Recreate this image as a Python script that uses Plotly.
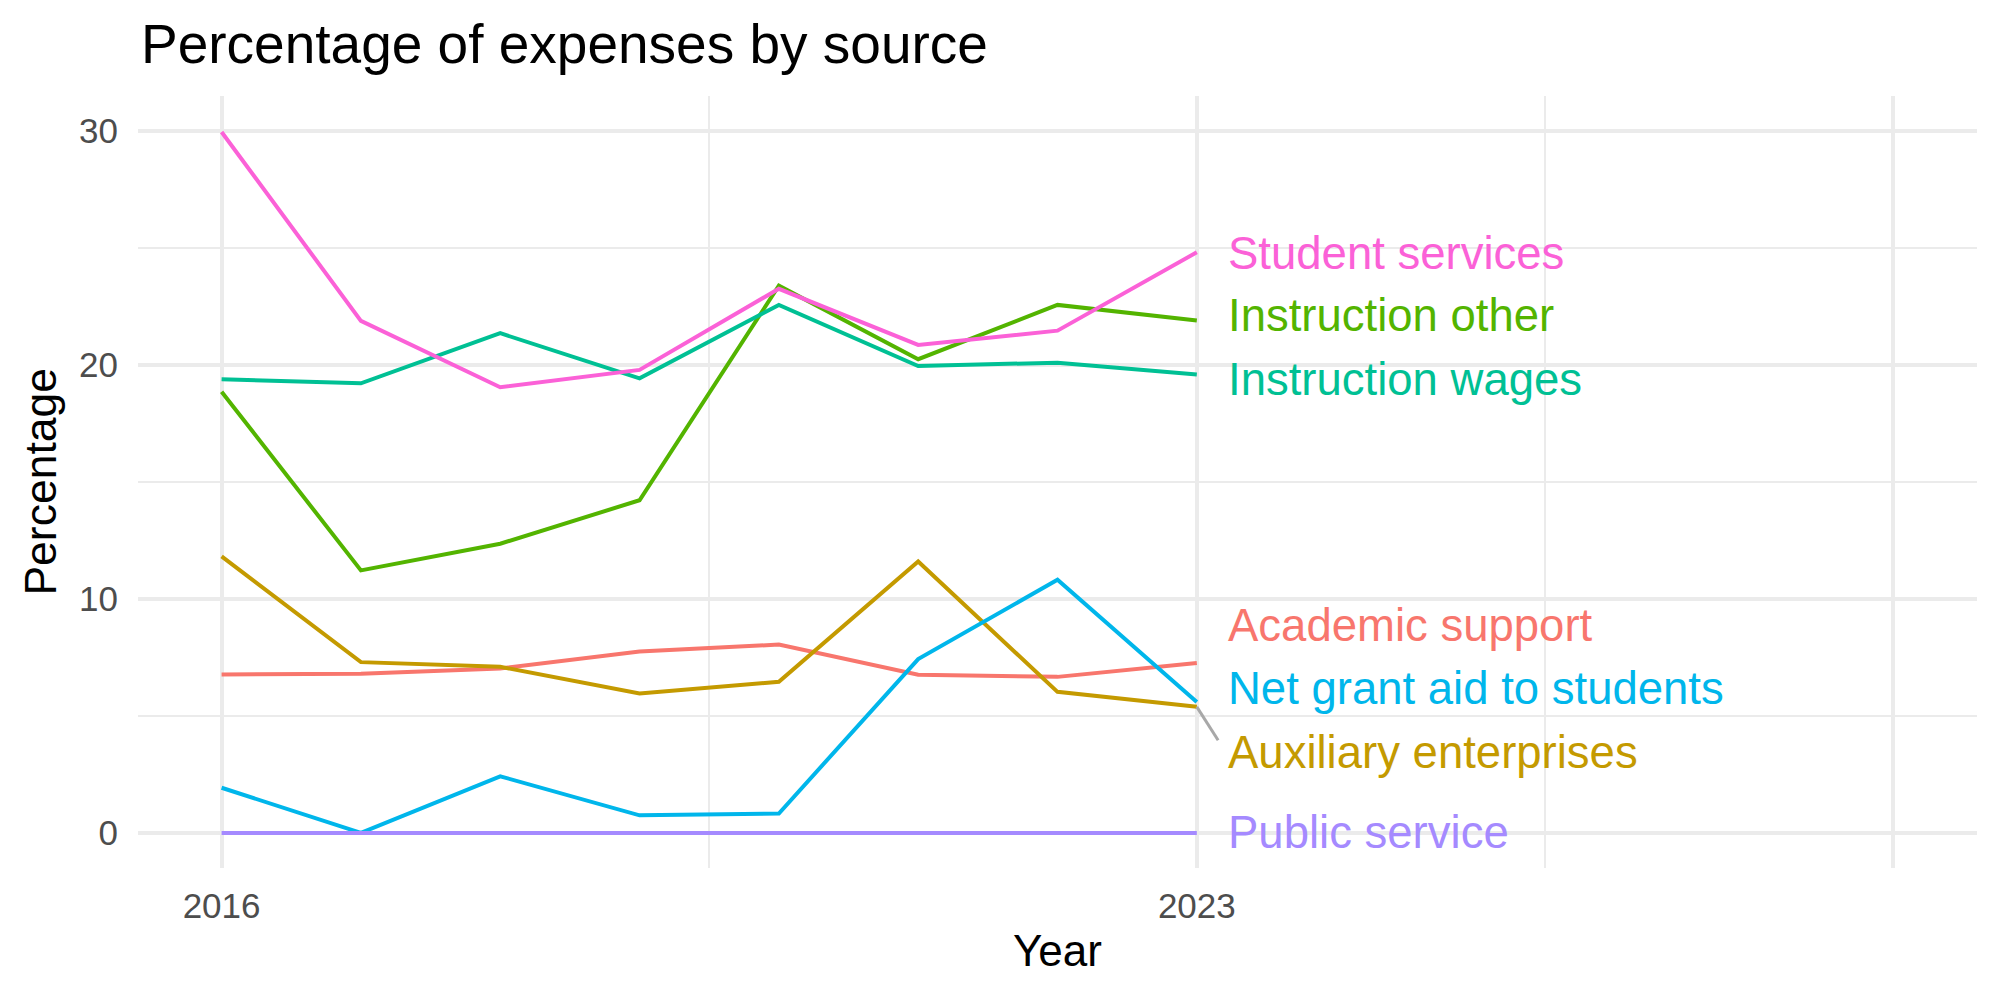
import plotly.graph_objects as go

years = [2016, 2017, 2018, 2019, 2020, 2021, 2022, 2023]

series_names = [
    "Academic support",
    "Auxiliary enterprises",
    "Instruction other",
    "Instruction wages",
    "Net grant aid to students",
    "Public service",
    "Student services",
]

academic_support = [6.77, 6.80, 7.03, 7.75, 8.05, 6.76, 6.67, 7.26]
auxiliary_enterprises = [11.82, 7.30, 7.10, 5.96, 6.46, 11.60, 6.03, 5.39]
instruction_other = [18.86, 11.22, 12.36, 14.22, 23.39, 20.25, 22.57, 21.90]
instruction_wages = [19.39, 19.22, 21.36, 19.43, 22.57, 19.96, 20.10, 19.60]
net_grant_aid = [1.93, 0.00, 2.42, 0.75, 0.83, 7.43, 10.82, 5.60]
public_service = [0.0, 0.0, 0.0, 0.0, 0.0, 0.0, 0.0, 0.0]
student_services = [29.96, 21.89, 19.05, 19.79, 23.26, 20.86, 21.47, 24.82]

values = [
    academic_support,
    auxiliary_enterprises,
    instruction_other,
    instruction_wages,
    net_grant_aid,
    public_service,
    student_services,
]

colors = ["#F8766D", "#C49A00", "#53B400", "#00C094", "#00B6EB", "#A58AFF", "#FB61D7"]

# repelled label positions (layout, in data units)
label_y = [8.85, 3.45, 22.10, 19.39, 6.16, 0.0, 24.78]
label_x = 2023.21

FONT = "Liberation Sans, Arial, Helvetica, sans-serif"
GRID = "#EBEBEB"

fig = go.Figure()
for name, vals, col in zip(series_names, values, colors):
    fig.add_trace(go.Scatter(
        x=years, y=vals, mode="lines", name=name,
        line=dict(color=col, width=4), showlegend=False,
    ))

annotations = []
for name, ly, col in zip(series_names, label_y, colors):
    annotations.append(dict(
        x=label_x, y=ly, xref="x", yref="y", text=name, showarrow=False,
        xanchor="left", yanchor="middle", font=dict(family=FONT, size=45.5, color=col),
    ))

# segment from Auxiliary enterprises end point to its label
aux_end = auxiliary_enterprises[-1]
fig.add_shape(type="line", xref="x", yref="y",
              x0=years[-1], y0=aux_end, x1=2023.153, y1=3.96,
              line=dict(color="#A8A8A8", width=3))

# axis titles
annotations.append(dict(
    x=0.5, y=-0.107, xref="paper", yref="paper", text="Year", showarrow=False,
    xanchor="center", yanchor="middle", font=dict(family=FONT, size=44, color="black"),
))
annotations.append(dict(
    x=-0.0535, y=0.5, xref="paper", yref="paper", text="Percentage", showarrow=False,
    textangle=-90, xanchor="center", yanchor="middle",
    font=dict(family=FONT, size=44.5, color="black"),
))

fig.update_layout(
    width=2000, height=1000,
    autosize=False,
    margin=dict(l=138, r=23, t=96, b=132, pad=0),
    paper_bgcolor="white", plot_bgcolor="white",
    font=dict(family=FONT),
    title=dict(
        text="Percentage of expenses by source",
        x=141 / 2000, xref="container", xanchor="left",
        y=1 - 44 / 1000, yref="container", yanchor="middle",
        font=dict(family=FONT, size=55, color="black"),
        pad=dict(t=0, b=0, l=0, r=0),
    ),
    annotations=annotations,
    xaxis=dict(
        range=[2015.40, 2028.60],
        tickmode="array", tickvals=[2016, 2023, 2028], ticktext=["2016", "2023", ""],
        showgrid=True, gridcolor=GRID, gridwidth=4,
        zeroline=False, showline=False,
        ticks="", ticklabelstandoff=14,
        tickfont=dict(family=FONT, size=35, color="#4D4D4D"),
        minor=dict(tickmode="array", tickvals=[2019.5, 2025.5], showgrid=True,
                   gridcolor=GRID, gridwidth=2, ticks=""),
    ),
    yaxis=dict(
        range=[-1.5, 31.5],
        tickmode="array", tickvals=[0, 10, 20, 30], ticktext=["0", "10", "20", "30"],
        showgrid=True, gridcolor=GRID, gridwidth=4,
        zeroline=False, showline=False,
        ticks="", ticklabelstandoff=19,
        tickfont=dict(family=FONT, size=35, color="#4D4D4D"),
        minor=dict(tickmode="array", tickvals=[5, 15, 25], showgrid=True,
                   gridcolor=GRID, gridwidth=2, ticks=""),
    ),
)

fig.write_html("out.html")
